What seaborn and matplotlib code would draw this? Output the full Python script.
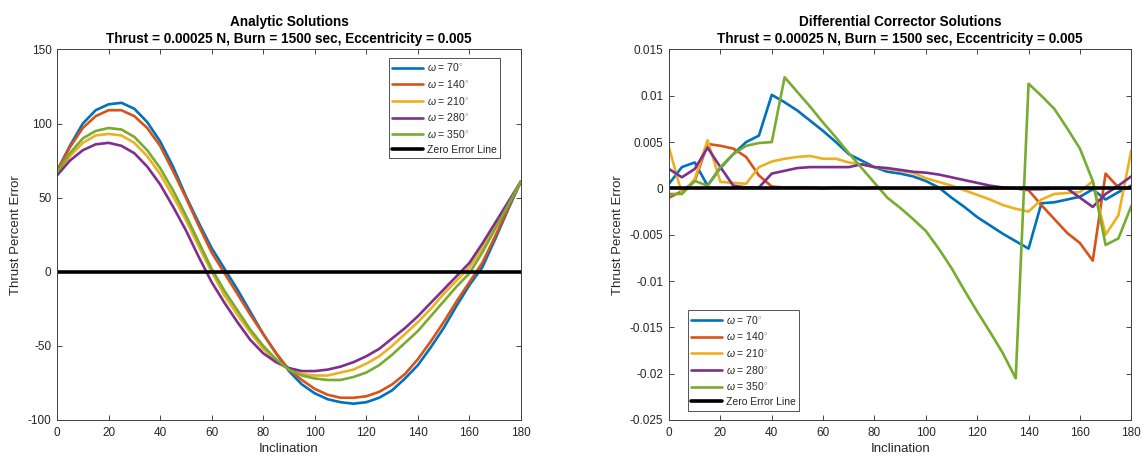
import matplotlib
matplotlib.use("Agg")
import matplotlib.pyplot as plt
import matplotlib.ticker as mticker
import numpy as np
import pandas as pd
import seaborn as sns

inclination = list(range(0, 181, 5))
omega_labels = ["70", "140", "210", "280", "350"]
colors = ["#0072BD", "#D95319", "#EDB120", "#7E2F8E", "#77AC30"]

# Analytic solutions (percent error)
an_70 = [68, 85, 100, 109, 113, 114, 110, 101, 88, 71, 51, 33, 16, 2, -12, -27, -42, -55,
         -67, -76, -82, -86, -88, -89, -88, -85, -80, -72, -63, -51, -38, -23, -9, 3, 22, 42, 61]
an_140 = [68, 84, 97, 105, 109, 109, 105, 97, 85, 68, 50, 31, 13, -1, -15, -29, -42, -55,
          -66, -73, -79, -83, -85, -85, -84, -81, -76, -69, -59, -47, -34, -20, -7, 6, 24, 43, 61]
an_210 = [66, 78, 87, 92, 93, 92, 87, 78, 66, 51, 35, 17, 0, -16, -29, -41, -52, -60,
          -66, -69, -70, -70, -68, -66, -62, -57, -50, -42, -34, -25, -15, -6, 3, 16, 31, 46, 61]
an_280 = [65, 75, 82, 86, 87, 85, 80, 71, 59, 44, 28, 10, -7, -21, -34, -46, -55, -61,
          -65, -67, -67, -66, -64, -61, -57, -52, -45, -38, -30, -21, -12, -3, 6, 19, 33, 47, 61]
an_350 = [67, 80, 90, 95, 97, 96, 91, 82, 70, 55, 38, 20, 2, -13, -26, -39, -50, -59,
          -66, -70, -72, -73, -73, -71, -68, -63, -56, -48, -40, -30, -20, -10, -1, 13, 29, 45, 61]

# Differential corrector solutions (percent error)
dc_70 = [0.0005, 0.0023, 0.0028, 0.0003, 0.0022, 0.0037, 0.0050, 0.0057, 0.0101, 0.0093,
         0.0084, 0.0073, 0.0062, 0.0050, 0.0037, 0.0030, 0.0023, 0.0018, 0.0016, 0.0013,
         0.0008, 0.0001, -0.0010, -0.0020, -0.0031, -0.0040, -0.0049, -0.0057, -0.0065,
         -0.0016, -0.0015, -0.0012, -0.0009, -0.0001, -0.0012, -0.0004, 0.0003]
dc_140 = [-0.0010, -0.0003, 0.0008, 0.0048, 0.0046, 0.0043, 0.0034, 0.0014, 0.0002, 0.0001,
          0.0001, 0.0001, 0.0000, 0.0001, 0.0001, 0.0000, 0.0001, 0.0000, 0.0000, 0.0000,
          0.0000, 0.0000, 0.0000, 0.0000, 0.0000, 0.0000, 0.0000, 0.0000, -0.0002,
          -0.0018, -0.0033, -0.0048, -0.0059, -0.0078, 0.0016, 0.0001, 0.0000]
dc_210 = [0.0044, -0.0006, 0.0010, 0.0052, 0.0007, 0.0006, 0.0005, 0.0023, 0.0029, 0.0032,
          0.0034, 0.0035, 0.0032, 0.0032, 0.0028, 0.0026, 0.0023, 0.0021, 0.0019, 0.0017,
          0.0011, 0.0007, 0.0003, -0.0002, -0.0007, -0.0012, -0.0018, -0.0022, -0.0025,
          -0.0012, -0.0006, -0.0005, -0.0004, 0.0008, -0.0050, -0.0029, 0.0041]
dc_280 = [0.0021, 0.0012, 0.0021, 0.0044, 0.0023, 0.0003, 0.0001, 0.0001, 0.0016, 0.0019,
          0.0022, 0.0023, 0.0023, 0.0023, 0.0023, 0.0026, 0.0023, 0.0022, 0.0020, 0.0018,
          0.0017, 0.0015, 0.0012, 0.0009, 0.0006, 0.0003, 0.0001, 0.0000, -0.0001,
          -0.0001, 0.0000, 0.0000, -0.0010, -0.0020, -0.0006, 0.0003, 0.0013]
dc_350 = [-0.0006, -0.0006, 0.0008, 0.0003, 0.0023, 0.0037, 0.0046, 0.0049, 0.0050, 0.0120,
          0.0104, 0.0088, 0.0071, 0.0055, 0.0038, 0.0022, 0.0006, -0.0010, -0.0021, -0.0033,
          -0.0046, -0.0065, -0.0086, -0.0110, -0.0133, -0.0155, -0.0178, -0.0205, 0.0113,
          0.0100, 0.0086, 0.0065, 0.0043, 0.0008, -0.0061, -0.0054, -0.0019]

zero_x = [0, 180]
zero_y = [0, 0]

title_sub = "Thrust = 0.00025 N, Burn = 1500 sec, Eccentricity = 0.005"

sns.set_style("ticks")
plt.rcParams["font.family"] = ["Liberation Sans", "DejaVu Sans"]
plt.rcParams["mathtext.fontset"] = "custom"
plt.rcParams["mathtext.it"] = "Liberation Sans:italic"
plt.rcParams["mathtext.rm"] = "Liberation Sans"
plt.rcParams["axes.unicode_minus"] = False

def make_df(series):
    rows = []
    for lab, vals in zip(omega_labels, series):
        for x, v in zip(inclination, vals):
            rows.append({"Inclination": x, "err": v,
                         "omega": r"$\omega$ = " + lab + r"$^{\circ}$"})
    return pd.DataFrame(rows)

df_an = make_df([an_70, an_140, an_210, an_280, an_350])
df_dc = make_df([dc_70, dc_140, dc_210, dc_280, dc_350])
hue_order = [r"$\omega$ = " + l + r"$^{\circ}$" for l in omega_labels]

fig = plt.figure(figsize=(11.47, 4.58), dpi=100)
ax1 = fig.add_axes([0.0497, 0.083, 0.4045, 0.809])
ax2 = fig.add_axes([0.5833, 0.083, 0.4030, 0.809])

spine_c = "#404040"
text_c = "#262626"

for ax, df, title, legloc, anchor in [
        (ax1, df_an, "Analytic Solutions", "upper right", (0.955, 0.978)),
        (ax2, df_dc, "Differential Corrector Solutions", "lower left", (0.04, 0.025))]:
    sns.lineplot(data=df, x="Inclination", y="err", hue="omega", hue_order=hue_order,
                 palette=colors, linewidth=1.9, ax=ax, sort=False, estimator=None)
    ax.plot(zero_x, zero_y, color="black", linewidth=2.6, label="Zero Error Line")
    ax.set_xlim(0, 180)
    ax.set_xticks(range(0, 181, 20))
    ax.set_xlabel("Inclination", fontsize=9.5, color=text_c, labelpad=3)
    ax.set_ylabel("Thrust Percent Error", fontsize=9.5, color=text_c, labelpad=4)
    ax.set_title(title + "\n" + title_sub, fontsize=9.8, fontweight="bold",
                 color="black", pad=5, linespacing=1.25)
    ax.tick_params(direction="in", top=True, right=True, length=3.5, width=0.6,
                   labelsize=8.5, colors=text_c)
    ax.tick_params(axis="x", pad=5)
    ax.tick_params(axis="y", pad=4)
    for s in ax.spines.values():
        s.set_color(spine_c)
        s.set_linewidth(0.7)
    h, l = ax.get_legend_handles_labels()
    leg = ax.legend(h, l, loc=legloc, bbox_to_anchor=anchor, fontsize=7.5,
                    frameon=True, fancybox=False, edgecolor="#262626",
                    handlelength=3.0, handletextpad=0.3, labelspacing=0.45,
                    borderpad=0.35, borderaxespad=0.0)
    leg.get_frame().set_linewidth(0.7)

ax1.set_ylim(-100, 150)
ax1.set_yticks(range(-100, 151, 50))
ax2.set_ylim(-0.025, 0.015)
ax2.set_yticks(np.arange(-0.025, 0.0151, 0.005))
ax2.yaxis.set_major_formatter(mticker.FuncFormatter(lambda v, p: "%g" % round(v, 4)))

fig.savefig("out.png", dpi=100, facecolor="white")
